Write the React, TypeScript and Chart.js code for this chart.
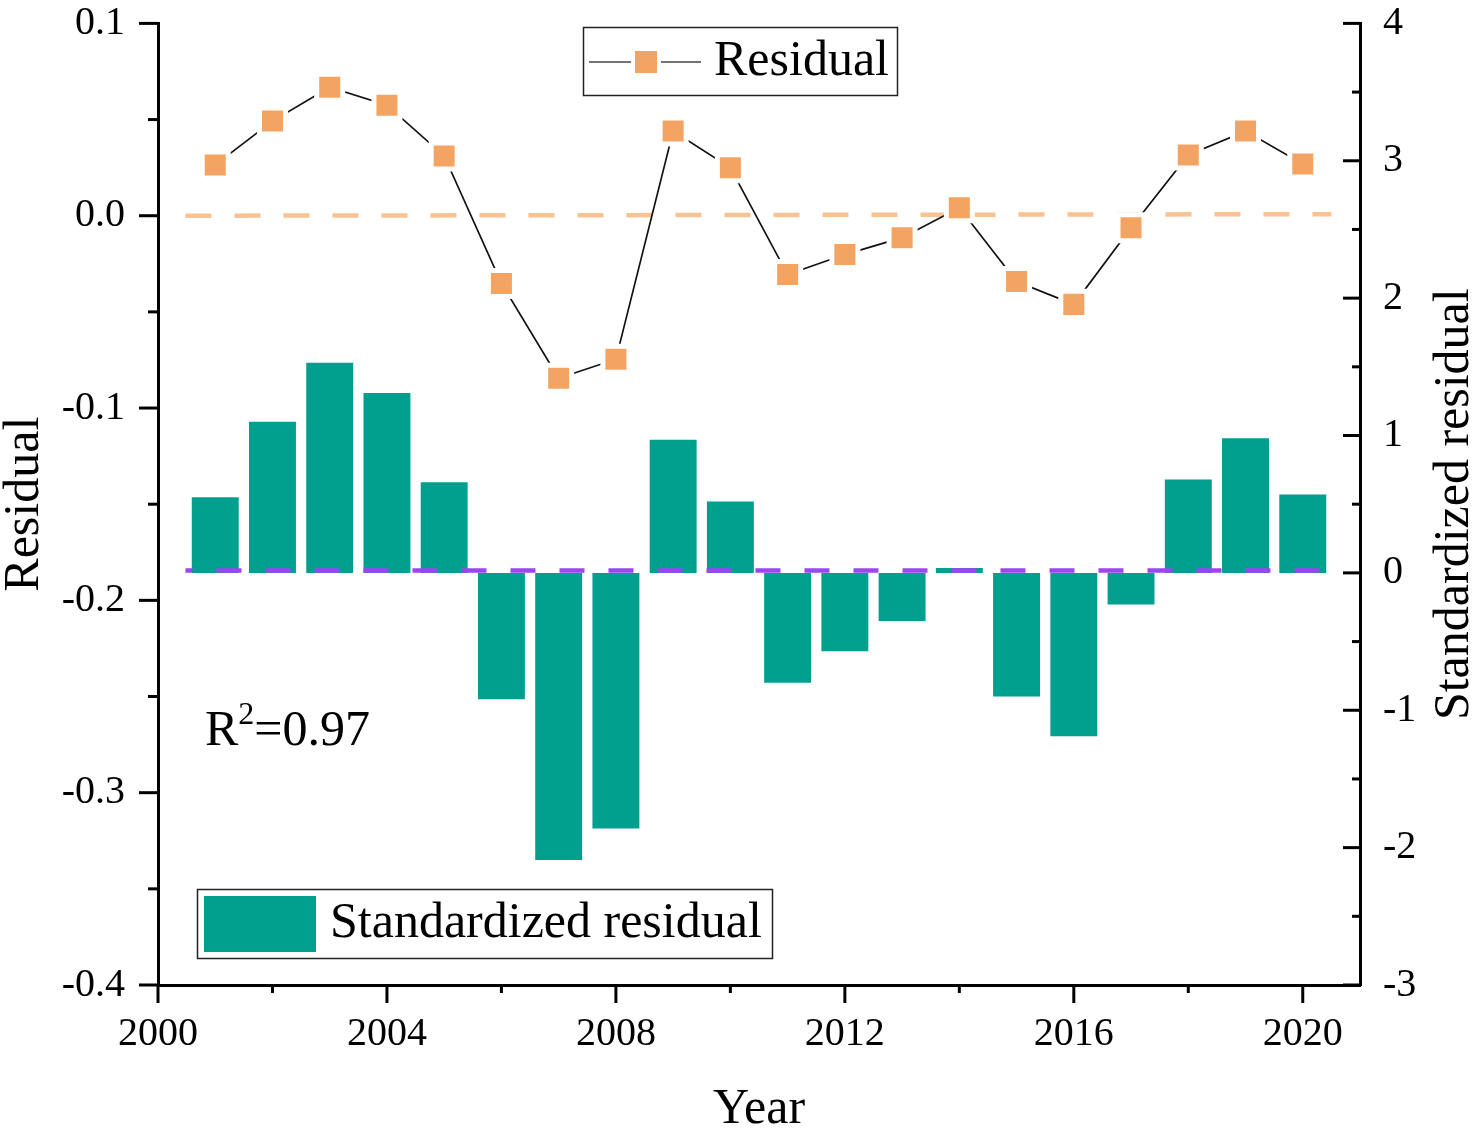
import React, { useEffect, useRef } from 'react';
import { Chart, registerables } from 'chart.js';

Chart.register(...registerables);

// ---------- data ----------
const YEARS = [2001, 2002, 2003, 2004, 2005, 2006, 2007, 2008, 2009, 2010, 2011, 2012, 2013, 2014, 2015, 2016, 2017, 2018, 2019, 2020];
const RESIDUAL = [0.0264, 0.0492, 0.0668, 0.0575, 0.0311, -0.0352, -0.0845, -0.0746, 0.044, 0.0249, -0.0306, -0.0202, -0.0114, 0.0041, -0.0342, -0.0461, -0.0062, 0.0316, 0.044, 0.0269];
const STD_RESIDUAL = [0.55, 1.1, 1.53, 1.31, 0.66, -0.92, -2.09, -1.86, 0.97, 0.52, -0.8, -0.57, -0.35, 0.035, -0.9, -1.19, -0.23, 0.68, 0.98, 0.57];
const REF_LINE_X = [2000.48, 2020.5];
const RESIDUAL_REF = [0, 0.0008];
const STD_REF = [0.018, 0.018];

const X_TICKS = [2000, 2004, 2008, 2012, 2016, 2020];
const X_MINOR = [2002, 2006, 2010, 2014, 2018];
const Y_TICKS = [-0.4, -0.3, -0.2, -0.1, 0.0, 0.1];
const Y_MINOR = [-0.35, -0.25, -0.15, -0.05, 0.05];
const Y2_TICKS = [-3, -2, -1, 0, 1, 2, 3, 4];
const Y2_MINOR = [-2.5, -1.5, -0.5, 0.5, 1.5, 2.5, 3.5];

const FONT = "'Liberation Serif', 'Times New Roman', serif";
const ORANGE = '#F4A462';
const ORANGE_LIGHT = '#F9C293';
const TEAL = '#009F8E';
const PURPLE = '#9B45F5';

const decorPlugin = {
  id: 'decor',
  afterDraw(chart: any) {
    const ctx: CanvasRenderingContext2D = chart.ctx;
    const { x, y, y2 } = chart.scales;
    const a = chart.chartArea;
    const seg = (x1: number, y1: number, x2: number, yy2: number) => {
      ctx.beginPath();
      ctx.moveTo(x1, y1);
      ctx.lineTo(x2, yy2);
      ctx.stroke();
    };
    ctx.save();
    ctx.strokeStyle = '#000';
    ctx.lineWidth = 3;
    ctx.lineCap = 'butt';
    // left axis ticks (outward)
    Y_TICKS.forEach((v) => { const p = y.getPixelForValue(v); seg(a.left - 19, p, a.left, p); });
    Y_MINOR.forEach((v) => { const p = y.getPixelForValue(v); seg(a.left - 10, p, a.left, p); });
    // right axis ticks (inward)
    Y2_TICKS.forEach((v) => { const p = y2.getPixelForValue(v); seg(a.right - 17, p, a.right, p); });
    Y2_MINOR.forEach((v) => { const p = y2.getPixelForValue(v); seg(a.right - 8, p, a.right, p); });
    // bottom axis ticks (outward)
    X_TICKS.forEach((v) => { const p = x.getPixelForValue(v); seg(p, a.bottom, p, a.bottom + 18); });
    X_MINOR.forEach((v) => { const p = x.getPixelForValue(v); seg(p, a.bottom, p, a.bottom + 8); });

    // axis titles
    ctx.fillStyle = '#000';
    ctx.font = `50px ${FONT}`;
    ctx.textAlign = 'center';
    ctx.textBaseline = 'middle';
    const midY = (a.top + a.bottom) / 2;
    ctx.save();
    ctx.translate(25, midY);
    ctx.rotate(-Math.PI / 2);
    ctx.fillText('Residual', 0, 0);
    ctx.restore();
    ctx.save();
    ctx.translate(1455, midY);
    ctx.rotate(-Math.PI / 2);
    ctx.fillText('Standardized residual', 0, 0);
    ctx.restore();
    ctx.fillText('Year', (a.left + a.right) / 2, 1110);

    // legend: Residual
    ctx.lineWidth = 1.5;
    ctx.strokeStyle = '#222';
    ctx.strokeRect(583.5, 27.5, 314, 68);
    ctx.strokeStyle = '#444';
    ctx.lineWidth = 1.5;
    seg(589, 62, 631, 62);
    seg(661, 62, 701, 62);
    ctx.fillStyle = ORANGE;
    ctx.fillRect(635, 51, 22, 22);
    ctx.fillStyle = '#000';
    ctx.textAlign = 'left';
    ctx.fillText('Residual', 714, 62);

    // legend: Standardized residual
    ctx.strokeStyle = '#222';
    ctx.strokeRect(197.5, 889.5, 575, 69);
    ctx.fillStyle = TEAL;
    ctx.fillRect(204, 896, 112, 56);
    ctx.fillStyle = '#000';
    ctx.fillText('Standardized residual', 330, 924);

    // R^2 annotation
    ctx.textBaseline = 'alphabetic';
    ctx.font = `50px ${FONT}`;
    ctx.fillText('R', 205, 745);
    const rw = ctx.measureText('R').width;
    ctx.font = `32px ${FONT}`;
    ctx.fillText('2', 205 + rw, 724);
    const sw = ctx.measureText('2').width;
    ctx.font = `50px ${FONT}`;
    ctx.fillText('=0.97', 205 + rw + sw, 745);
    ctx.restore();
  },
};

export default function App() {
  const ref = useRef<HTMLCanvasElement>(null);
  useEffect(() => {
    document.body.style.margin = '0';
    document.body.style.overflow = 'hidden';
    const tickFont = { family: FONT, size: 40, lineHeight: 1 };
    const chart = new Chart(ref.current as HTMLCanvasElement, {
      type: 'bar',
      data: {
        datasets: [
          {
            type: 'line',
            label: 'Residual',
            data: YEARS.map((yr, i) => ({ x: yr, y: RESIDUAL[i] })),
            yAxisID: 'y',
            xAxisID: 'x',
            borderColor: '#111',
            borderWidth: 1.7,
            tension: 0,
            pointStyle: 'rect',
            pointRadius: 18.4,
            pointBackgroundColor: ORANGE,
            pointBorderColor: '#ffffff',
            pointBorderWidth: 5,
            fill: false,
            order: 1,
          } as any,
          {
            type: 'line',
            label: 'Residual reference',
            data: REF_LINE_X.map((xv, i) => ({ x: xv, y: RESIDUAL_REF[i] })),
            yAxisID: 'y',
            xAxisID: 'x',
            borderColor: ORANGE_LIGHT,
            borderWidth: 4.5,
            borderDash: [26, 23],
            pointRadius: 0,
            fill: false,
            order: 2,
          } as any,
          {
            type: 'line',
            label: 'Standardized reference',
            data: REF_LINE_X.map((xv, i) => ({ x: xv, y: STD_REF[i] })),
            yAxisID: 'y2',
            xAxisID: 'x',
            borderColor: PURPLE,
            borderWidth: 4.5,
            borderDash: [25, 24],
            borderDashOffset: 18,
            pointRadius: 0,
            fill: false,
            order: 3,
          } as any,
          {
            type: 'bar',
            label: 'Standardized residual',
            data: YEARS.map((yr, i) => ({ x: yr, y: STD_RESIDUAL[i] })),
            yAxisID: 'y2',
            xAxisID: 'x',
            backgroundColor: TEAL,
            barPercentage: 0.82,
            categoryPercentage: 1,
            order: 4,
          } as any,
        ],
      },
      options: {
        animation: false,
        responsive: false,
        devicePixelRatio: 1,
        layout: { padding: { top: 20, left: 0, right: 0, bottom: 0 } },
        plugins: { legend: { display: false }, tooltip: { enabled: false } },
        scales: {
          x: {
            type: 'linear',
            position: 'bottom',
            min: 2000,
            max: 2021,
            offset: false,
            grid: { display: false, drawTicks: false },
            border: { display: true, color: '#000', width: 3 },
            ticks: {
              font: tickFont,
              color: '#000',
              padding: 29,
              maxRotation: 0,
              autoSkip: false,
              callback: (v: any) => String(v),
            },
            afterBuildTicks: (s: any) => { s.ticks = X_TICKS.map((v) => ({ value: v })); },
            afterFit: (s: any) => { s.height = 147; s.paddingLeft = 0; s.paddingRight = 0; },
          },
          y: {
            type: 'linear',
            position: 'left',
            min: -0.4,
            max: 0.1,
            grid: { display: false, drawTicks: false },
            border: { display: true, color: '#000', width: 3 },
            ticks: {
              font: tickFont,
              color: '#000',
              padding: 33,
              callback: (v: any) => Number(v).toFixed(1),
            },
            afterBuildTicks: (s: any) => { s.ticks = Y_TICKS.map((v) => ({ value: v })); },
            afterFit: (s: any) => { s.width = 158; s.paddingTop = 0; s.paddingBottom = 0; },
          },
          y2: {
            type: 'linear',
            position: 'right',
            min: -3,
            max: 4,
            grid: { display: false, drawTicks: false },
            border: { display: true, color: '#000', width: 3 },
            ticks: {
              font: tickFont,
              color: '#000',
              padding: 23,
              callback: (v: any) => String(v),
            },
            afterBuildTicks: (s: any) => { s.ticks = Y2_TICKS.map((v) => ({ value: v })); },
            afterFit: (s: any) => { s.width = 117; s.paddingTop = 0; s.paddingBottom = 0; },
          },
        },
      } as any,
      plugins: [decorPlugin],
    });
    return () => chart.destroy();
  }, []);
  return (
    <div style={{ width: 1477, height: 1132, position: 'relative', background: '#fff' }}>
      <canvas ref={ref} width={1477} height={1132} style={{ display: 'block', width: 1477, height: 1132 }} />
    </div>
  );
}
